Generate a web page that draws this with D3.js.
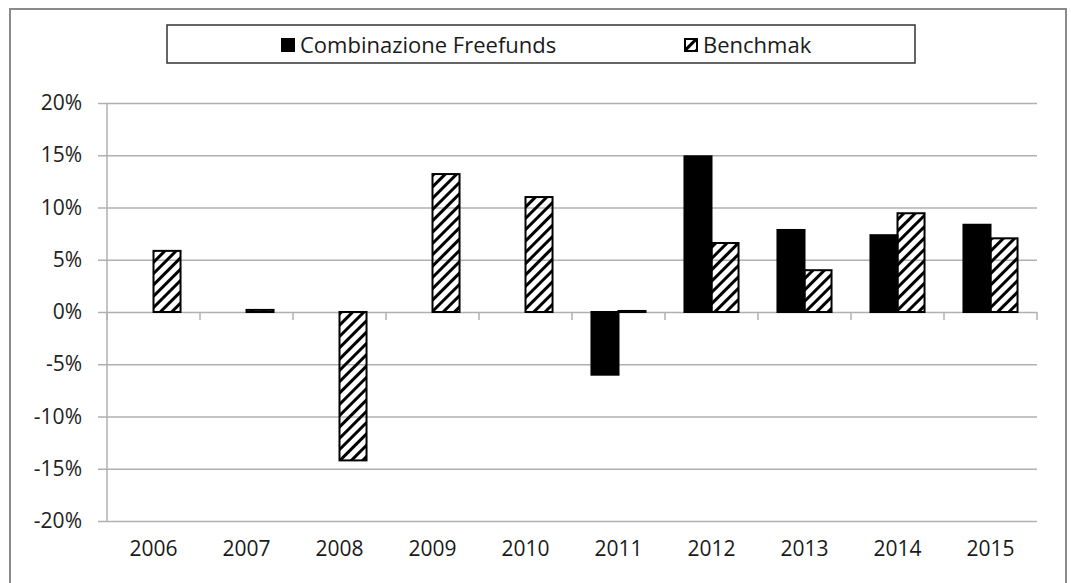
<!DOCTYPE html>
<html>
<head>
<meta charset="utf-8">
<script src="https://cdn.jsdelivr.net/npm/d3@7"></script>
<style>
  body { margin: 0; background: #fff; }
  text { font-family: "Open Sans", Calibri, sans-serif; fill: #222; }
</style>
</head>
<body>
<div id="wrapper"></div>
<script>
// data (percent)
const years = ["2006", "2007", "2008", "2009", "2010", "2011", "2012", "2013", "2014", "2015"];
const seriesNames = ["Combinazione Freefunds", "Benchmak"];
const freefunds = [null, null, null, null, null, -6.0, 14.9, 7.85, 7.35, 8.35];
const benchmark = [5.85, 0.2, -14.2, 13.2, 11.0, 0.1, 6.6, 4.0, 9.45, 7.05];
const yTicks = [-20, -15, -10, -5, 0, 5, 10, 15, 20];

let dimensions = {
    width: 1071,
    height: 583,
    margin: { top: 103, left: 107, bottom: 62, right: 34 }
}
dimensions.boundedWidth = dimensions.width - dimensions.margin.left - dimensions.margin.right;
dimensions.boundedHeight = dimensions.height - dimensions.margin.top - dimensions.margin.bottom;

let wrapper = d3.select("#wrapper").append("svg")
    .attr("width", dimensions.width)
    .attr("height", dimensions.height);

// diagonal hatch pattern
const defs = wrapper.append("defs");
defs.append("pattern")
    .attr("id", "hatch")
    .attr("patternUnits", "userSpaceOnUse")
    .attr("width", 8)
    .attr("height", 8)
    .attr("patternTransform", "rotate(45)")
  .append("rect")
    .attr("x", 0).attr("y", 0)
    .attr("width", 3).attr("height", 8)
    .attr("fill", "#000");

// outer chart border
wrapper.append("rect")
    .attr("x", 10).attr("y", 9)
    .attr("width", 1056).attr("height", 620)
    .attr("fill", "none")
    .attr("stroke", "#8a8a8a")
    .attr("stroke-width", 2);

let container = wrapper.append("g")
    .attr("transform", `translate(${dimensions.margin.left}, ${dimensions.margin.top})`);

const x0 = d3.scaleBand()
    .domain(years)
    .range([0, dimensions.boundedWidth])
    .padding(0);
const x1 = d3.scaleBand()
    .domain(seriesNames)
    .range([0, x0.bandwidth()])
    .paddingInner(0)
    .paddingOuter(0.72);
const y = d3.scaleLinear()
    .domain([-20, 20])
    .range([dimensions.boundedHeight, 0]);

// gridlines + y labels
const yAxisGen = d3.axisLeft(y)
    .tickValues(yTicks)
    .tickSize(-dimensions.boundedWidth - 9)
    .tickPadding(15)
    .tickFormat(d => d + "%");
const axisY = container.append("g")
    .attr("transform", "translate(-9,0)")
    .call(yAxisGen);
axisY.select(".domain").remove();
axisY.selectAll(".tick line")
    .attr("stroke", "#b0b0b0")
    .attr("stroke-width", 1.5)
    .attr("x1", 0)
    .attr("x2", dimensions.boundedWidth + 9);
axisY.selectAll(".tick text")
    .style("font-size", "21px")
    .attr("x", -16)
    .attr("fill", "#1a1a1a");

// vertical axis line
container.append("line")
    .attr("x1", 0).attr("x2", 0)
    .attr("y1", 0).attr("y2", dimensions.boundedHeight)
    .attr("stroke", "#b0b0b0")
    .attr("stroke-width", 1.5);

// category tick marks at the zero line
const boundaries = years.map(d => x0(d)).concat([dimensions.boundedWidth]);
container.selectAll(".cattick")
    .data(boundaries)
    .enter()
    .append("line")
    .attr("class", "cattick")
    .attr("x1", d => d).attr("x2", d => d)
    .attr("y1", y(0)).attr("y2", y(0) + 8)
    .attr("stroke", "#b0b0b0")
    .attr("stroke-width", 1.5);

// bars
const rows = [];
years.forEach((yr, i) => {
    if (freefunds[i] !== null) rows.push({ year: yr, series: seriesNames[0], value: freefunds[i] });
    if (benchmark[i] !== null) rows.push({ year: yr, series: seriesNames[1], value: benchmark[i] });
});

container.selectAll(".bar")
    .data(rows)
    .enter()
    .append("rect")
    .attr("class", "bar")
    .attr("x", d => x0(d.year) + x1(d.series))
    .attr("y", d => y(Math.max(0, d.value)))
    .attr("width", x1.bandwidth())
    .attr("height", d => Math.abs(y(d.value) - y(0)))
    .attr("fill", d => d.series === seriesNames[0] ? "#000" : "url(#hatch)")
    .attr("stroke", "#000")
    .attr("stroke-width", 2);

// x labels
container.selectAll(".xlabel")
    .data(years)
    .enter()
    .append("text")
    .attr("class", "xlabel")
    .attr("x", d => x0(d) + x0.bandwidth() / 2)
    .attr("y", dimensions.boundedHeight + 35)
    .attr("text-anchor", "middle")
    .style("font-size", "21px")
    .style("fill", "#1a1a1a")
    .text(d => d);

// legend
const legend = wrapper.append("g");
legend.append("rect")
    .attr("x", 167).attr("y", 25)
    .attr("width", 748).attr("height", 38)
    .attr("fill", "#fff")
    .attr("stroke", "#333")
    .attr("stroke-width", 1.5);

const legendX = [281, 684];
const legendItem = legend.selectAll(".item")
    .data(seriesNames)
    .enter()
    .append("g")
    .attr("class", "item")
    .attr("transform", (d, i) => `translate(${legendX[i]}, 38)`);
legendItem.append("rect")
    .attr("x", 1).attr("y", 1)
    .attr("width", 12).attr("height", 12)
    .attr("fill", (d, i) => i === 0 ? "#000" : "url(#hatch)")
    .attr("stroke", "#000")
    .attr("stroke-width", 2);
legendItem.append("text")
    .attr("x", 19)
    .attr("y", 15)
    .style("font-size", "22px")
    .style("fill", "#1a1a1a")
    .text(d => d);
</script>
</body>
</html>
